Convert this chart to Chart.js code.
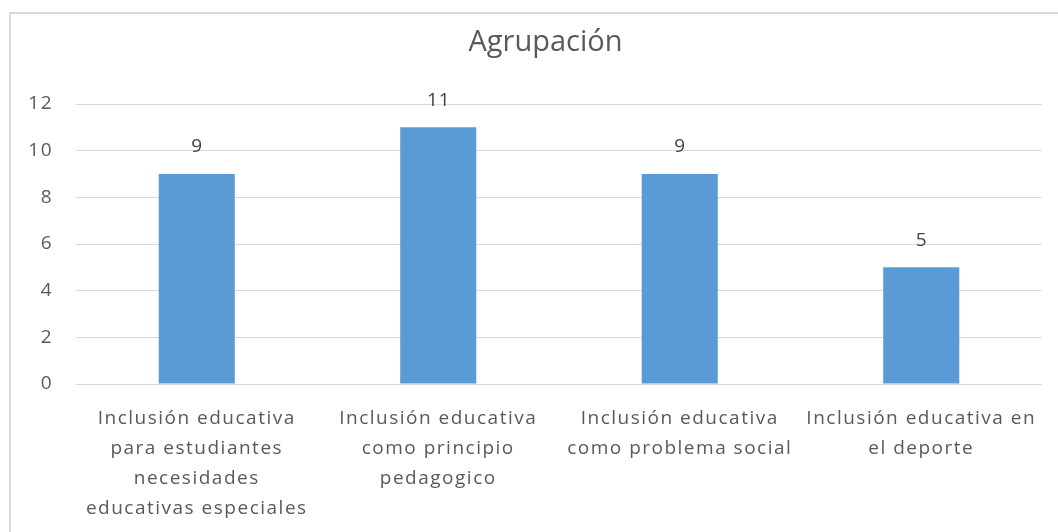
<!DOCTYPE html>
<html>
<head>
<meta charset="utf-8">
<script src="https://cdn.jsdelivr.net/npm/chart.js@4.4.1/dist/chart.umd.min.js"></script>
<style>
  html, body { margin: 0; padding: 0; background: #ffffff; }
  #wrap { position: relative; width: 1058px; height: 532px; overflow: hidden; }
  #frame { position: absolute; left: 9px; top: 12px; width: 1080px; height: 560px; border: 2px solid #d9d9d9; box-sizing: border-box; }
  canvas { position: absolute; left: 0; top: 0; }
</style>
</head>
<body>
<div id="wrap">
  <div id="frame"></div>
  <canvas id="c" width="1058" height="532"></canvas>
</div>
<script>
const title = "Agrupación";
const categories = [
  ["Inclusión educativa", "para estudiantes", "necesidades", "educativas especiales"],
  ["Inclusión educativa", "como principio", "pedagogico"],
  ["Inclusión educativa", "como problema social"],
  ["Inclusión educativa en", "el deporte"]
];
const values = [9, 11, 9, 5];
const yTicks = [0, 2, 4, 6, 8, 10, 12];

const FONT = "'Open Sans', 'DejaVu Sans', sans-serif";

function spaceLabels(scale, spacing, noClip) {
  if (scale._spaced) return;
  scale._spaced = true;
  if (noClip) scale._computeLabelArea = function () { return undefined; };
  const orig = scale.drawLabels;
  scale.drawLabels = function (area) {
    const ctx = this.ctx;
    ctx.save();
    ctx.letterSpacing = spacing;
    orig.call(this, area);
    ctx.restore();
  };
}

const valueLabels = {
  id: 'valueLabels',
  afterDatasetsDraw(chart) {
    const ctx = chart.ctx;
    const meta = chart.getDatasetMeta(0);
    ctx.save();
    ctx.font = "19px " + FONT;
    ctx.letterSpacing = "1px";
    ctx.fillStyle = "#404040";
    ctx.textAlign = "center";
    ctx.textBaseline = "middle";
    meta.data.forEach((bar, i) => {
      ctx.fillText(String(values[i]), bar.x + 0.5, bar.y - 27);
    });
    ctx.restore();
  }
};

new Chart(document.getElementById('c'), {
  type: 'bar',
  data: {
    labels: categories,
    datasets: [{
      data: values,
      backgroundColor: '#5B9BD5',
      borderWidth: 0,
      barPercentage: 0.315,
      categoryPercentage: 1
    }]
  },
  options: {
    responsive: false,
    animation: false,
    devicePixelRatio: 1,
    layout: { padding: { left: 49, right: 16, top: 0, bottom: 0 } },
    plugins: {
      legend: { display: false },
      tooltip: { enabled: false },
      title: {
        display: true,
        text: title,
        color: '#595959',
        font: { family: FONT, size: 29, weight: 'normal', lineHeight: 1.2 },
        padding: { top: 25.6, bottom: 43.6 }
      }
    },
    scales: {
      x: {
        grid: { display: false },
        border: { display: false },
        ticks: {
          color: '#595959',
          font: { family: FONT, size: 19, lineHeight: 30 / 19 },
          padding: 12,
          maxRotation: 0,
          minRotation: 0,
          autoSkip: false
        },
        afterFit(scale) { scale.height = 148; spaceLabels(scale, '1.5px', false); }
      },
      y: {
        min: 0,
        max: 12,
        afterBuildTicks(scale) { scale.ticks = yTicks.map(v => ({ value: v })); },
        grid: { color: '#d9d9d9', lineWidth: 1, drawTicks: false },
        border: { display: false },
        ticks: {
          color: '#595959',
          font: { family: FONT, size: 19 },
          padding: 23
        },
        afterFit(scale) { scale.width = 27; spaceLabels(scale, '1.5px', true); }
      }
    }
  },
  plugins: [valueLabels]
});
</script>
</body>
</html>
